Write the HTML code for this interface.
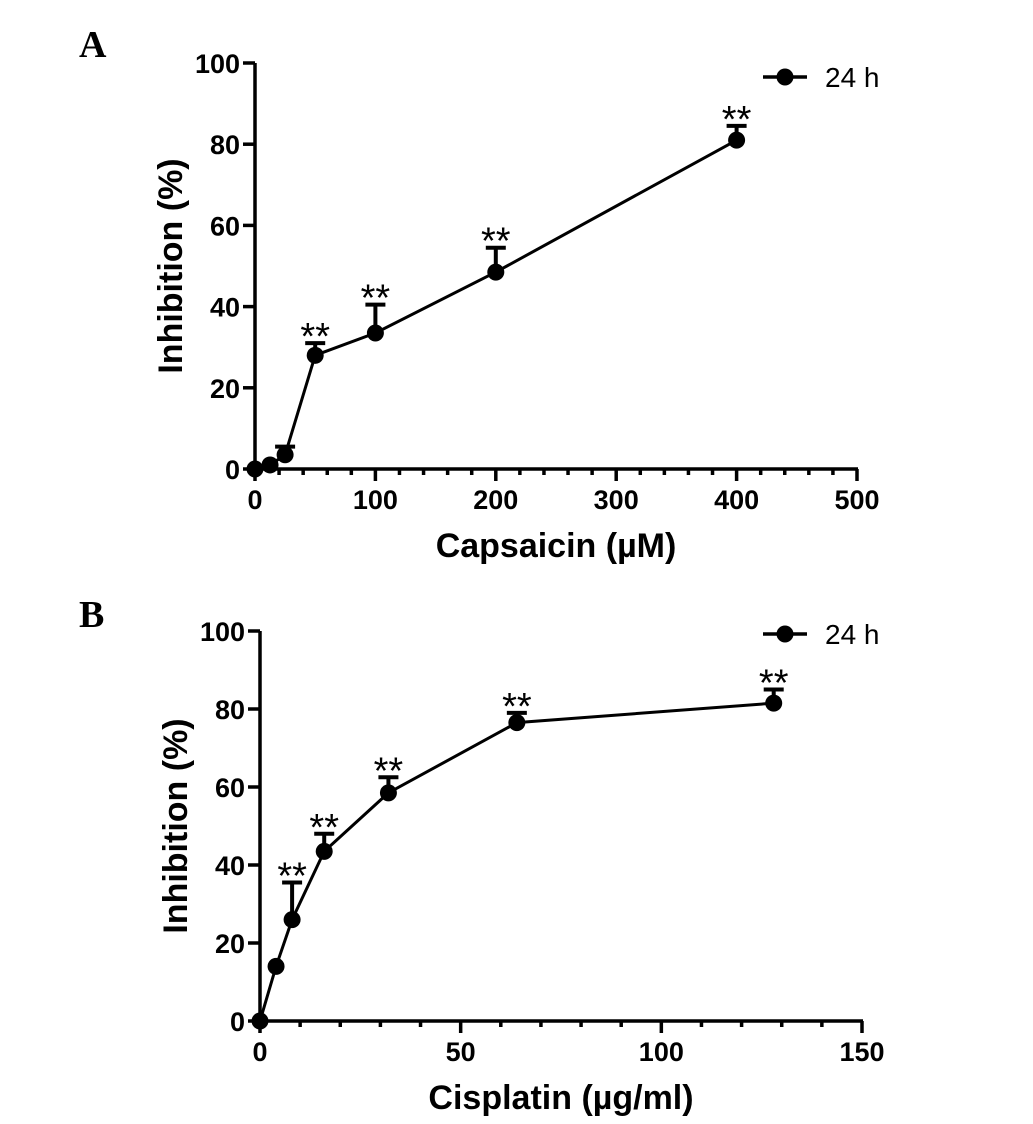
<!DOCTYPE html>
<html><head><meta charset="utf-8"><style>
body{margin:0;background:#fff;}
svg{display:block;font-family:"Liberation Sans",Arial,sans-serif;}
</style></head><body>
<svg id="svg" width="1033" height="1124">
<text x="79" y="57" font-family="Liberation Serif" font-weight="bold" font-size="38">A</text>
<text x="79" y="627" font-family="Liberation Serif" font-weight="bold" font-size="38">B</text>
</svg>
<script>
// Panel A data
const capX = [0, 12.5, 25, 50, 100, 200, 400];
const capY = [0, 1, 3.5, 28, 33.5, 48.5, 81];
const capErr = [0, 0, 2, 3, 7, 6, 3.5];
const capSig = [false, false, false, true, true, true, true];
const capXTicks = [0, 100, 200, 300, 400, 500];
// Panel B data
const cisX = [0, 4, 8, 16, 32, 64, 128];
const cisY = [0, 14, 26, 43.5, 58.5, 76.5, 81.5];
const cisErr = [0, 0, 9.5, 4.5, 4, 2.5, 3.5];
const cisSig = [false, false, true, true, true, true, true];
const cisXTicks = [0, 50, 100, 150];
const yTicks = [0, 20, 40, 60, 80, 100];

const NS = 'http://www.w3.org/2000/svg';
const svg = document.getElementById('svg');
function mk(tag, attrs, parent, text) {
  const e = document.createElementNS(NS, tag);
  for (const k in attrs) e.setAttribute(k, attrs[k]);
  if (text !== undefined) e.textContent = text;
  (parent || svg).appendChild(e);
  return e;
}
function panel(cfg) {
  const g = mk('g', {});
  
  
  const sx = v => cfg.x0 + (v - cfg.xmin) / (cfg.xmax - cfg.xmin) * (cfg.x1 - cfg.x0);
  const sy = v => cfg.y0 - v / 100 * (cfg.y0 - cfg.y1);
  const ax = mk('line', {x1: cfg.x0, y1: cfg.y0, x2: cfg.x1 + 1, y2: cfg.y0, stroke: '#000', 'stroke-width': 3.5}, g);
  
  
  const ay = mk('line', {x1: cfg.x0, y1: cfg.y0 + 1, x2: cfg.x0, y2: cfg.y1, stroke: '#000', 'stroke-width': 3.5}, g);
  
  
  yTicks.forEach(t => {
    mk('line', {x1: cfg.x0 - 12, x2: cfg.x0, y1: sy(t), y2: sy(t), stroke: '#000', 'stroke-width': 3.5}, g);
    const tl = mk('text', {x: cfg.x0 - 15, y: sy(t) + 10, 'text-anchor': 'end', 'font-size': 27, 'font-weight': 'bold'}, g, t);
    
    
  });
  const step = cfg.xTicks[1] - cfg.xTicks[0];
  for (let v = cfg.xmin; v <= cfg.xmax + 1e-9; v += step / cfg.minor) {
    const major = Math.abs(v / step - Math.round(v / step)) < 1e-6;
    mk('line', {x1: sx(v), x2: sx(v), y1: cfg.y0, y2: cfg.y0 + (major ? 12 : 6), stroke: '#000', 'stroke-width': 3.5}, g);
  }
  cfg.xTicks.forEach(t => {
    const tl = mk('text', {x: sx(t), y: cfg.y0 + 40, 'text-anchor': 'middle', 'font-size': 27, 'font-weight': 'bold'}, g, t);
    
    
  });
  const xt = mk('text', {x: (cfg.x0 + cfg.x1) / 2, y: cfg.y0 + 88, 'text-anchor': 'middle', 'font-size': 34, 'font-weight': 'bold'}, g, cfg.xTitle);
  
  
  const yc = (cfg.y0 + cfg.y1) / 2;
  const yt = mk('text', {x: 0, y: 0, transform: `translate(${cfg.x0 - 73},${yc}) rotate(-90)`, 'text-anchor': 'middle', 'font-size': 34, 'font-weight': 'bold'}, g, 'Inhibition (%)');
  
  
  const pts = cfg.xs.map((x, i) => sx(x) + ',' + sy(cfg.ys[i])).join(' ');
  const pl = mk('polyline', {points: pts, fill: 'none', stroke: '#000', 'stroke-width': 3}, g);
  
  
  cfg.xs.forEach((x, i) => {
    const cx = sx(x), cy = sy(cfg.ys[i]);
    if (cfg.err[i] > 0) {
      const top = sy(cfg.ys[i] + cfg.err[i]);
      const eb = mk('path', {d: `M${cx},${cy} V${top} M${cx - 10},${top} H${cx + 10}`, stroke: '#000', 'stroke-width': 4, fill: 'none'}, g);
      
      
    }
    const c = mk('circle', {cx: cx, cy: cy, r: 8.5, fill: '#000'}, g);
    
    
    if (cfg.sig[i]) {
      const top = sy(cfg.ys[i] + cfg.err[i]);
      const st = mk('text', {x: cx, y: top + 6, 'text-anchor': 'middle', 'font-size': 38}, g, '**');
      
      
    }
  });
  const lg = mk('g', {}, g);
  
  
  mk('line', {x1: cfg.lx, x2: cfg.lx + 44, y1: cfg.ly, y2: cfg.ly, stroke: '#000', 'stroke-width': 3.5}, lg);
  mk('circle', {cx: cfg.lx + 22, cy: cfg.ly, r: 8.5, fill: '#000'}, lg);
  mk('text', {x: cfg.lx + 62, y: cfg.ly + 10, 'font-size': 28}, lg, '24 h');
}
panel({name: 'panel-a-chart', x0: 255, x1: 857, y0: 469, y1: 63, xmin: 0, xmax: 500, minor: 5,
  xTicks: capXTicks, xs: capX, ys: capY, err: capErr, sig: capSig, xTitle: 'Capsaicin (\u00b5M)', lx: 763, ly: 77});
panel({name: 'panel-b-chart', x0: 260, x1: 862, y0: 1021, y1: 631, xmin: 0, xmax: 150, minor: 5,
  xTicks: cisXTicks, xs: cisX, ys: cisY, err: cisErr, sig: cisSig, xTitle: 'Cisplatin (\u00b5g/ml)', lx: 763, ly: 634});
</script>
</body></html>
